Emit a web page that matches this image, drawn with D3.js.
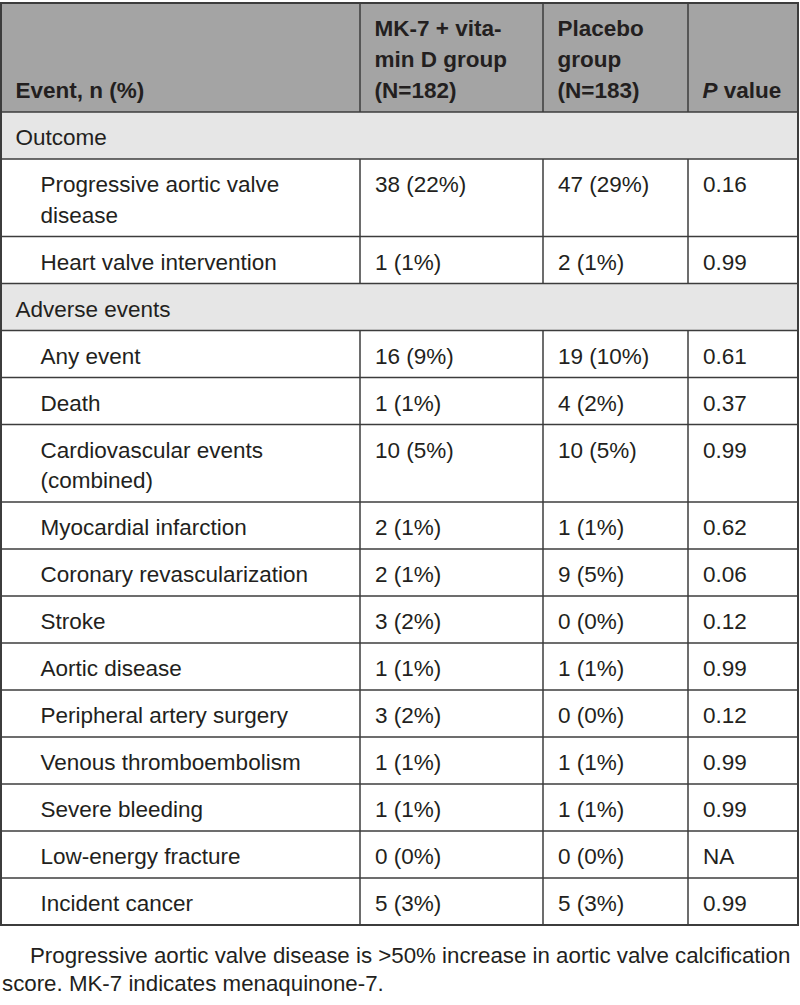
<!DOCTYPE html>
<html>
<head>
<meta charset="utf-8">
<script src="https://cdn.jsdelivr.net/npm/d3@7"></script>
<style>
  html, body { margin: 0; padding: 0; background: #fff; }
  svg { display: block; }
  text { font-family: "Liberation Sans", Arial, Helvetica, sans-serif; fill: #231f20; }
</style>
</head>
<body>
<div id="chart"></div>
<script>
// ---- data ----
const headerCols = [
  ["Event, n (%)"],
  ["MK-7 + vita-", "min D group", "(N=182)"],
  ["Placebo", "group", "(N=183)"],
  ["P value"]
];
const rowKinds = ["section", "item", "item", "section", "item", "item", "item", "item", "item", "item", "item", "item", "item", "item", "item", "item"];
const eventLabels = [
  ["Outcome"],
  ["Progressive aortic valve", "disease"],
  ["Heart valve intervention"],
  ["Adverse events"],
  ["Any event"],
  ["Death"],
  ["Cardiovascular events", "(combined)"],
  ["Myocardial infarction"],
  ["Coronary revascularization"],
  ["Stroke"],
  ["Aortic disease"],
  ["Peripheral artery surgery"],
  ["Venous thromboembolism"],
  ["Severe bleeding"],
  ["Low-energy fracture"],
  ["Incident cancer"]
];
const mk7Values = ["", "38 (22%)", "1 (1%)", "", "16 (9%)", "1 (1%)", "10 (5%)", "2 (1%)", "2 (1%)", "3 (2%)", "1 (1%)", "3 (2%)", "1 (1%)", "1 (1%)", "0 (0%)", "5 (3%)"];
const placeboValues = ["", "47 (29%)", "2 (1%)", "", "19 (10%)", "4 (2%)", "10 (5%)", "1 (1%)", "9 (5%)", "0 (0%)", "1 (1%)", "0 (0%)", "1 (1%)", "1 (1%)", "0 (0%)", "5 (3%)"];
const pValues = ["", "0.16", "0.99", "", "0.61", "0.37", "0.99", "0.62", "0.06", "0.12", "0.99", "0.12", "0.99", "0.99", "NA", "0.99"];
const footnoteLines = [
  "Progressive aortic valve disease is >50% increase in aortic valve calcification",
  "score. MK-7 indicates menaquinone-7."
];

// ---- layout ----
const W = 800, H = 1005;
const colEdges = [1, 360, 543, 688, 798];
const tableTop = 3, headerH = 109;
const lineH = 30.5, rowPad = 16.5;
const fs = 22.5;
const border = "#3c3c3c";

const svg = d3.select("#chart").append("svg").attr("width", W).attr("height", H);

// rows with heights
const rows = eventLabels.map((lab, i) => ({
  kind: rowKinds[i], label: lab, cells: [mk7Values[i], placeboValues[i], pValues[i]],
  h: rowPad + lineH * lab.length
}));
let acc = tableTop + headerH;
rows.forEach(r => { r.y = acc; acc += r.h; });
const tableBottom = acc;

const x = d3.scaleOrdinal().domain(d3.range(4)).range(colEdges.slice(0, 4));

// header background
svg.append("rect").attr("x", colEdges[0]).attr("y", tableTop)
  .attr("width", colEdges[4] - colEdges[0]).attr("height", headerH).attr("fill", "#a4a4a4");

// section backgrounds
svg.selectAll("rect.sec").data(rows.filter(r => r.kind === "section")).join("rect")
  .attr("class", "sec").attr("x", colEdges[0]).attr("y", d => d.y)
  .attr("width", colEdges[4] - colEdges[0]).attr("height", d => d.h).attr("fill", "#e6e6e6");

// header text
const hdrBase = tableTop + headerH - 14;
headerCols.forEach((lines, c) => {
  lines.forEach((ln, k) => {
    const t = svg.append("text")
      .attr("x", x(c) + 14.5)
      .attr("y", hdrBase - (lines.length - 1 - k) * 31)
      .attr("font-size", fs).attr("font-weight", "bold");
    if (ln === "P value") {
      t.append("tspan").attr("font-style", "italic").text("P");
      t.append("tspan").text(" value");
    } else t.text(ln);
  });
});

// body text
rows.forEach(r => {
  const indent = r.kind === "section" ? 14.5 : 39.5;
  r.label.forEach((ln, k) => {
    svg.append("text").attr("x", colEdges[0] + indent).attr("y", r.y + 33 + k * lineH)
      .attr("font-size", fs).text(ln);
  });
  if (r.kind === "item") {
    r.cells.forEach((v, c) => {
      svg.append("text").attr("x", x(c + 1) + 15).attr("y", r.y + 33)
        .attr("font-size", fs).text(v);
    });
  }
});

// horizontal lines
const hLines = [tableTop + headerH].concat(rows.slice(1).map(r => r.y));
svg.selectAll("line.h").data(hLines).join("line")
  .attr("x1", colEdges[0]).attr("x2", colEdges[4])
  .attr("y1", d => d).attr("y2", d => d)
  .attr("stroke", border).attr("stroke-width", 1.5);

// vertical lines (interior): header full, body only for item rows
[1, 2, 3].forEach(c => {
  svg.append("line").attr("x1", colEdges[c]).attr("x2", colEdges[c])
    .attr("y1", tableTop).attr("y2", tableTop + headerH)
    .attr("stroke", border).attr("stroke-width", 1.5);
  rows.filter(r => r.kind === "item").forEach(r => {
    svg.append("line").attr("x1", colEdges[c]).attr("x2", colEdges[c])
      .attr("y1", r.y).attr("y2", r.y + r.h)
      .attr("stroke", border).attr("stroke-width", 1.5);
  });
});

// outer border
svg.append("rect").attr("x", colEdges[0]).attr("y", tableTop)
  .attr("width", colEdges[4] - colEdges[0]).attr("height", tableBottom - tableTop)
  .attr("fill", "none").attr("stroke", border).attr("stroke-width", 2);

// footnote
svg.append("text").attr("x", 30).attr("y", tableBottom + 38).attr("font-size", 22.3)
  .text(footnoteLines[0]);
svg.append("text").attr("x", 2).attr("y", tableBottom + 66).attr("font-size", 22.3)
  .text(footnoteLines[1]);
</script>
</body>
</html>
